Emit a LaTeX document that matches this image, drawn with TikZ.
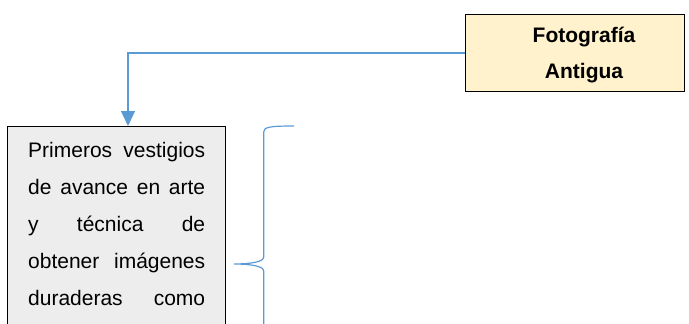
\documentclass[tikz,border=0pt]{standalone}
\usepackage{fontspec}
\setmainfont{Liberation Sans}
\usetikzlibrary{arrows.meta}
\definecolor{boxyellow}{HTML}{FFF2CC}
\definecolor{boxgray}{HTML}{EDEDED}
\definecolor{linkblue}{HTML}{5B9BD5}
\tikzset{
  boxstyle/.style={draw=black, line width=0.9pt, inner sep=0pt},
  conn/.style={draw=linkblue, line width=1.3pt},
  titletext/.style={font=\fontsize{21pt}{25pt}\selectfont\bfseries, anchor=base, inner sep=0pt},
  bodytext/.style={font=\fontsize{21pt}{25pt}\selectfont, anchor=base west, inner sep=0pt}
}
\begin{document}
\begin{tikzpicture}[x=1pt,y=-1pt]
\useasboundingbox (0,0) rectangle (689,324);
\clip (0,0) rectangle (689,324);
% top box
\node[boxstyle, fill=boxyellow, anchor=north west, minimum width=219pt, minimum height=77pt] (top) at (465,14) {};
\node[titletext] (t1) at (584,42) {Fotografía};
\node[titletext] (t2) at (584,78) {Antigua};
% left box
\node[boxstyle, fill=boxgray, anchor=north west, minimum width=218pt, minimum height=260pt] (left) at (7,126) {};
\node[bodytext] (l1) at (28,157) {\makebox[177pt][s]{Primeros vestigios}};
\node[bodytext] (l2) at (28,194) {\makebox[177pt][s]{de avance en arte}};
\node[bodytext] (l3) at (28,231) {\makebox[177pt][s]{y técnica de}};
\node[bodytext] (l4) at (28,268) {\makebox[177pt][s]{obtener imágenes}};
\node[bodytext] (l5) at (28,305) {\makebox[177pt][s]{duraderas como}};
% connector
\coordinate (ah) at (128,126);
\draw[conn, -{Triangle[width=14pt,length=15pt]}] (top.west) -| (ah);
% brace
\coordinate (btop) at (294,126);
\coordinate (btip) at (234,264);
\coordinate (bbot) at (263.7,340);
\draw[conn, line width=1.2pt] (btop) .. controls (270,126) and (263.7,127) .. (263.7,132)
  -- (263.7,257) .. controls (263.7,262) and (250,264) .. (btip)
  .. controls (250,264) and (263.7,266) .. (263.7,271) -- (bbot);
\end{tikzpicture}
\end{document}
